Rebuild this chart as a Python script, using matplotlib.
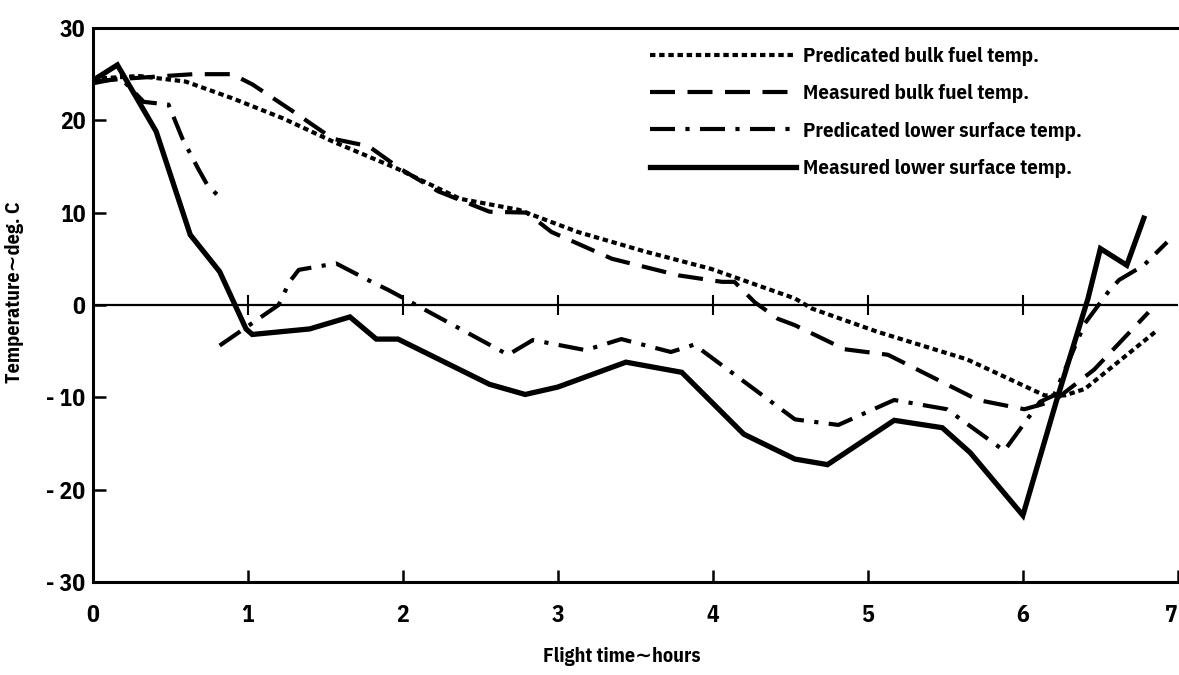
import numpy as np
import matplotlib
matplotlib.use('Agg')
import matplotlib.pyplot as plt

plt.rcParams['font.family'] = ['IBM Plex Sans Condensed', 'DejaVu Sans']

# Predicated bulk fuel temp. (dotted)
pbf_t = [0, 0.3, 0.6, 0.9, 1.23, 1.55, 1.96, 2.37, 2.75, 3.13, 3.56, 3.99, 4.53,
         4.64, 5.06, 5.64, 6.14, 6.27, 6.4, 6.87]
pbf_v = [24.5, 24.8, 24.2, 22.4, 20.2, 17.7, 14.8, 11.5, 10.3, 7.9, 5.8, 3.9, 0.7,
         -0.4, -2.9, -5.9, -9.8, -9.8, -9.1, -2.7]

# Measured bulk fuel temp. (dashed)
mbf_t = [0, 0.2, 0.65, 0.9, 1.03, 1.29, 1.55, 1.78, 1.98, 2.23, 2.56, 2.8, 2.96,
         3.35, 3.78, 4.06, 4.14, 4.27, 4.42, 4.53, 4.85, 5.13, 5.39, 5.71, 6.01,
         6.2, 6.46, 6.81]
mbf_v = [24.2, 24.5, 25, 25, 23.9, 21, 18, 17.2, 14.8, 12.3, 10.1, 10.0, 7.9,
         5, 3.2, 2.5, 2.5, 0.3, -1.5, -2.2, -4.8, -5.4, -7.6, -10.3, -11.3,
         -10.4, -7, -0.8]

# Predicated lower surface temp. (dash-dot, two pieces)
pls_t = [0, 0.18, 0.33, 0.49, 0.58, 0.68, 0.74, 0.83, np.nan,
         0.82, 1.2, 1.27, 1.33, 1.57, 1.8, 1.91, 2.68, 2.84, 3.18, 3.41, 3.73,
         3.88, 4.53, 4.81, 5.17, 5.51, 5.88, 6.11, 6.2, 6.4, 6.55, 6.62, 6.78,
         6.93]
pls_v = [24, 24.6, 22, 21.7, 18, 14.8, 13, 11.5, np.nan,
         -4.4, 0, 2.5, 3.8, 4.5, 2.5, 1.6, -5.4, -3.8, -4.9, -3.7, -5.1,
         -4.3, -12.4, -13, -10.3, -11.3, -15.8, -10.5, -9.8, -2, 1.4, 2.7, 4.3,
         6.8]

# Measured lower surface temp. (solid)
mls_t = [0, 0.16, 0.41, 0.63, 0.82, 0.99, 1.03, 1.4, 1.66, 1.83, 1.97, 2.56, 2.79,
         3.0, 3.44, 3.8, 4.2, 4.53, 4.74, 5.17, 5.48, 5.66, 6.0, 6.22, 6.42,
         6.5, 6.67, 6.78]
mls_v = [24.3, 26, 18.8, 7.6, 3.6, -2.6, -3.2, -2.6, -1.3, -3.7, -3.7, -8.6, -9.7,
         -8.9, -6.2, -7.3, -14, -16.7, -17.3, -12.5, -13.3, -16, -22.8, -10.2, 0.7,
         6.1, 4.3, 9.4]

x_ticks = [0, 1, 2, 3, 4, 5, 6, 7]
y_ticks = [-30, -20, -10, 0, 10, 20, 30]
y_labels = ['- 30', '- 20', '- 10', '0', '10', '20', '30']

fig = plt.figure(figsize=(11.79, 6.75), dpi=100)
ax = fig.add_axes([0.0785, 0.138, 0.9206, 0.8205])

ax.plot(pbf_t, pbf_v, color='black', lw=3.0, dashes=(1.3, 0.9),
        label='Predicated bulk fuel temp.')
ax.plot(mbf_t, mbf_v, color='black', lw=3.0, dashes=(6, 3),
        label='Measured bulk fuel temp.')
ax.plot(pls_t, pls_v, color='black', lw=3.0, dashes=(6, 2.5, 1, 2.5),
        label='Predicated lower surface temp.')
ax.plot(mls_t, mls_v, color='black', lw=3.8, solid_joinstyle='miter',
        label='Measured lower surface temp.')

# zero line with small crosses at each hour
ax.axhline(0, color='black', lw=1.6)
ax.plot(x_ticks[1:-1], [0] * 6, ls='none', marker='|', ms=14, mew=1.5,
        color='black')

ax.set_xlim(0, 7)
ax.set_ylim(-30, 30)
ax.set_xticks(x_ticks)
ax.set_yticks(y_ticks)
ax.set_yticklabels(y_labels)
ax.tick_params(direction='in', length=9, width=1.8, labelsize=17)
ax.tick_params(axis='x', pad=16)
ax.tick_params(axis='y', pad=5)
for lab in ax.get_xticklabels() + ax.get_yticklabels():
    lab.set_fontweight('bold')
ax.get_xticklabels()[-1].set_horizontalalignment('right')
ax.spines['right'].set_visible(False)
for s in ['left', 'bottom', 'top']:
    ax.spines[s].set_linewidth(2.2)

fig.text(622 / 1179, 1 - 656 / 675, 'Flight time\u223chours', fontsize=14.5,
         fontweight='bold', ha='center', va='center')
fig.text(15 / 1179, 1 - 292 / 675, 'Temperature\u223cdeg. C', fontsize=14.5,
         fontweight='bold', ha='center', va='center', rotation=90)

leg = ax.legend(loc='upper left', bbox_to_anchor=(0.5136, 0.966), frameon=False,
                prop={'size': 15, 'weight': 'bold'}, handlelength=7.0,
                handletextpad=0.35, labelspacing=0.88, borderaxespad=0,
                borderpad=0)

fig.savefig('out.png', dpi=100)
